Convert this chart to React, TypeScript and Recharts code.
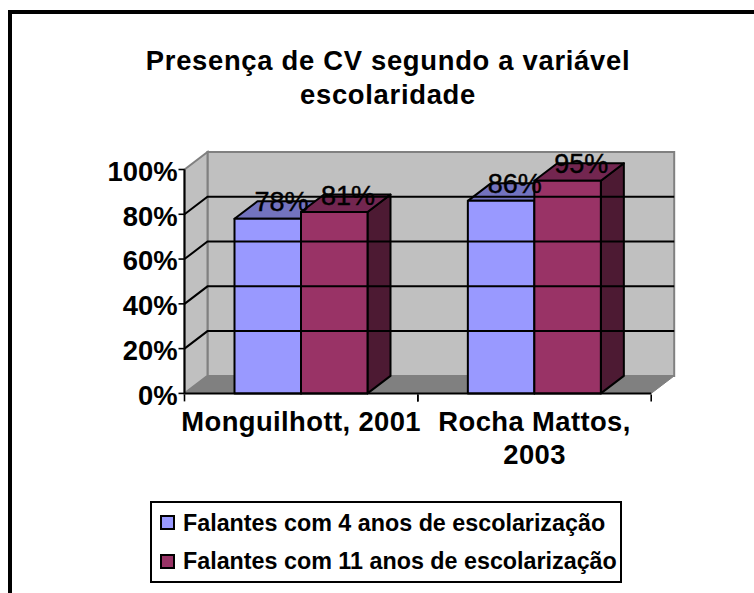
import { BarChart, Bar, XAxis, YAxis, ReferenceArea, ReferenceLine, LabelList, Legend } from 'recharts'

const categories = ['Monguilhott, 2001', 'Rocha Mattos, 2003']
const falantes4 = [78, 86]
const falantes11 = [81, 95]
const yTicks = [0, 20, 40, 60, 80, 100]
const gridValues = [20, 40, 60, 80]
const seriesNames = ['Falantes com 4 anos de escolarização', 'Falantes com 11 anos de escolarização']

const data = categories.map((name, i) => ({ name, a: falantes4[i], b: falantes11[i] }))

const FONT = '"Liberation Sans", Arial, sans-serif'
const DX = 23
const DY = 17.5
const BAND = 233.35

// fake 3D walls, the floor and the back wall hang off the plot rectangle
function Walls({ x, y, width, height }: any) {
  const b = y + height
  const r = x + width
  return (
    <g>
      <polygon points={`${x + DX},${y - DY} ${r + DX},${y - DY} ${r + DX},${b - DY} ${x + DX},${b - DY}`} fill="#c0c0c0" stroke="#808080" strokeWidth={2} />
      <polygon points={`${x},${y} ${x + DX},${y - DY} ${x + DX},${b - DY} ${x},${b}`} fill="#c0c0c0" stroke="#808080" strokeWidth={2} />
      <polygon points={`${x},${b} ${x + DX},${b - DY} ${r + DX},${b - DY} ${r},${b}`} fill="#808080" stroke="#808080" strokeWidth={1} />
    </g>
  )
}

function GridLine({ x1, x2, y1 }: any) {
  return <polyline points={`${x1},${y1} ${x1 + DX},${y1 - DY} ${x2 + DX},${y1 - DY}`} fill="none" stroke="#000" strokeWidth={2} />
}

function makeBar(top: string, side: string) {
  return function Bar3D({ x, y, width, height, fill }: any) {
    const r = x + width
    const b = y + height
    return (
      <g stroke="#000" strokeWidth={2} strokeLinejoin="round">
        <polygon points={`${r},${y} ${r + DX},${y - DY} ${r + DX},${b - DY} ${r},${b}`} fill={side} />
        <polygon points={`${x},${y} ${x + DX},${y - DY} ${r + DX},${y - DY} ${r},${y}`} fill={top} />
        <rect x={x} y={y} width={width} height={height} fill={fill} />
      </g>
    )
  }
}

function ValueLabel({ x, y, width, value }: any) {
  return (
    <text x={x + width / 2 + 13.7} y={y - 7.5} textAnchor="middle" fontSize={27} fontFamily={FONT} fill="#000" stroke="#000" strokeWidth={0.4}>
      {value}%
    </text>
  )
}

function CategoryTick({ x, y, payload }: any) {
  const words = String(payload.value).split(' ')
  const lines = payload.value.length > 17 ? [words.slice(0, -1).join(' '), words[words.length - 1]] : [payload.value]
  return (
    <g>
      <line x1={x - BAND / 2} x2={x - BAND / 2} y1={y - 7} y2={y} stroke="#000" strokeWidth={1.6} />
      <line x1={x + BAND / 2} x2={x + BAND / 2} y1={y - 7} y2={y} stroke="#000" strokeWidth={1.6} />
      {lines.map((l: string, i: number) => (
        <text key={i} x={x} y={431 + i * 33} textAnchor="middle" fontSize={27.4} fontWeight="bold" fontFamily={FONT} letterSpacing={0.4} fill="#000">
          {l}
        </text>
      ))}
    </g>
  )
}

function LegendBox({ payload }: any) {
  const items = [...(payload || [])].sort((p: any, q: any) => seriesNames.indexOf(p.value) - seriesNames.indexOf(q.value))
  return (
    <div style={{ boxSizing: 'border-box', width: 472, height: 82, border: '2px solid #000', background: '#fff', position: 'relative', fontFamily: FONT }}>
      {items.map((p: any, i: number) => (
        <div key={p.value} style={{ position: 'absolute', left: 8, top: 11.5 + i * 38.7, display: 'flex', alignItems: 'center', whiteSpace: 'nowrap' }}>
          <span style={{ boxSizing: 'border-box', display: 'inline-block', width: 15, height: 15, background: p.color, border: '2px solid #000', marginRight: 8 }} />
          <span style={{ fontSize: 23.3, fontWeight: 'bold', lineHeight: '16px', color: '#000' }}>{p.value}</span>
        </div>
      ))}
    </div>
  )
}

export default function App() {
  return (
    <div style={{ position: 'absolute', left: 0, top: 0, width: 754, height: 593, overflow: 'hidden', background: '#fff' }}>
      <div style={{ position: 'absolute', left: 8, top: 10, right: 0, bottom: 0, borderLeft: '4px solid #000', borderTop: '4px solid #000' }} />
      <div style={{ position: 'absolute', left: 0, width: 776, top: 44, textAlign: 'center', fontFamily: FONT, fontSize: 27.4, lineHeight: '34px', fontWeight: 'bold', letterSpacing: 0.7, color: '#000' }}>
        Presença de CV segundo a variável
        <br />
        escolaridade
      </div>
      <div style={{ position: 'absolute', left: 0, top: 0 }}>
        <BarChart width={754} height={593} data={data} margin={{ top: 169.5, right: 102.8, bottom: 149.6, left: 0 }} barSize={66.5} barGap={0}>
          <ReferenceArea y1={0} y2={100} shape={Walls} ifOverflow="visible" />
          {gridValues.map((v) => (
            <ReferenceLine key={v} y={v} shape={GridLine} ifOverflow="visible" />
          ))}
          <XAxis dataKey="name" height={50} interval={0} tick={CategoryTick} tickLine={false} axisLine={{ stroke: '#000', strokeWidth: 2 }} />
          <YAxis
            width={184.5}
            domain={[0, 100]}
            ticks={yTicks}
            tickFormatter={(v) => `${v}%`}
            tick={{ fontSize: 27.4, fontWeight: 'bold', fill: '#000', fontFamily: FONT, dy: 1.5 }}
            tickSize={6}
            tickMargin={1}
            tickLine={{ stroke: '#000', strokeWidth: 1.6 }}
            axisLine={{ stroke: '#000', strokeWidth: 2 }}
          />
          <Bar dataKey="a" name={seriesNames[0]} fill="#9999ff" shape={makeBar('#7373bf', '#4d4d80')} isAnimationActive={false}>
            <LabelList dataKey="a" content={ValueLabel} />
          </Bar>
          <Bar dataKey="b" name={seriesNames[1]} fill="#993366" shape={makeBar('#732650', '#4d1a33')} isAnimationActive={false}>
            <LabelList dataKey="b" content={ValueLabel} />
          </Bar>
          <Legend layout="vertical" align="center" verticalAlign="middle" content={LegendBox} wrapperStyle={{ left: 150, top: 501, width: 472, height: 82 }} />
        </BarChart>
      </div>
    </div>
  )
}
